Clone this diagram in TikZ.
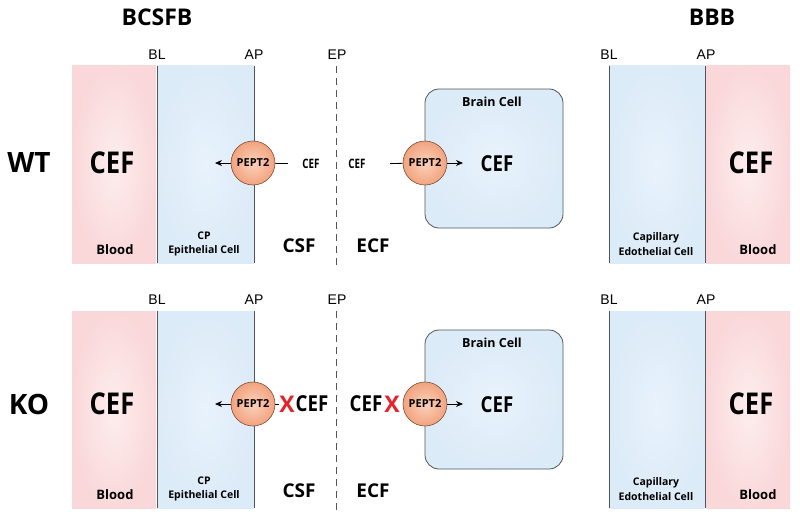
\documentclass[tikz,border=0pt]{standalone}
\usepackage{fontspec}
\setmainfont{Open Sans}
\newfontfamily\thinfont{Liberation Sans}
\usetikzlibrary{arrows.meta}
\definecolor{pinkout}{HTML}{FAD8DA}
\definecolor{pinkin}{HTML}{FDEDEE}
\definecolor{blueout}{HTML}{DCEBF8}
\definecolor{bluein}{HTML}{E8F2FB}
\definecolor{peptout}{HTML}{F2A37E}
\definecolor{peptin}{HTML}{FBD2BC}
\definecolor{peptline}{HTML}{7A4E3A}
\definecolor{linegray}{HTML}{50555B}
\definecolor{crossred}{HTML}{E3242B}
\newcommand\fsz[2]{\fontsize{#1}{#2}\selectfont}
\begin{document}
\begin{tikzpicture}[x=1pt,y=-1pt,
	pinkzone/.style={inner color=pinkin, outer color=pinkout},
	bluezone/.style={inner color=bluein, outer color=blueout},
	membrane/.style={draw=linegray, line width=0.9pt},
	pept/.style={circle, minimum size=44pt, inner sep=0pt, draw=peptline, line width=0.6pt, inner color=peptin, outer color=peptout, font=\bfseries\fsz{11}{11}},
	flow/.style={-{Stealth[length=7pt,width=6pt]}, line width=0.8pt},
	title/.style={font=\bfseries\fsz{23}{23}},
	rowlab/.style={font=\bfseries\fsz{28}{28}},
	memlab/.style={font=\thinfont\fsz{14}{14}},
	bigcef/.style={font=\bfseries\fsz{30}{30}, xscale=0.85},
	midcef/.style={font=\bfseries\fsz{22}{22}, xscale=0.85},
	smallcef/.style={font=\bfseries\fsz{13}{13}, xscale=0.75},
	zonelab/.style={font=\bfseries\fsz{13}{13}},
	celllab/.style={font=\bfseries\fsz{10.5}{14.5}, align=center},
	fluidlab/.style={font=\bfseries\fsz{19}{19}},
	redx/.style={font=\bfseries\fsz{23}{23}, text=crossred, inner sep=0pt}]
	\useasboundingbox (0,0) rectangle (800,519);
	\node[title] (bcsfb) at (157,17) {BCSFB};
	\node[title] (bbb) at (712,17) {BBB};
	\node[rowlab] (wt) at (29,163) {WT};
	\node[rowlab] (ko) at (29,404) {KO};
	\foreach \r/\yo/\dy in {wt/0/0, ko/245/-4} {
		\begin{scope}[yshift=-\yo pt]
			\shade[pinkzone] (72,66) rectangle (156,263);
			\shade[bluezone] (157,66) rectangle (254,263);
			\shade[bluezone] (609,66) rectangle (705,263);
			\shade[pinkzone] (706,66) rectangle (790,263);
			\draw[membrane] (157,66) -- (157,263);
			\draw[membrane] (254,66) -- (254,263);
			\draw[membrane] (609,66) -- (609,263);
			\draw[membrane] (705,66) -- (705,263);
			\draw[linegray, line width=0.9pt, dash pattern=on 7pt off 5pt] (336,66) -- (336,265);
			\node[memlab] (bl-\r) at (157,55) {BL};
			\node[memlab] (ap-\r) at (254,55) {AP};
			\node[memlab] (ep-\r) at (337,55) {EP};
			\node[memlab] (bbl-\r) at (609,55) {BL};
			\node[memlab] (bap-\r) at (706,55) {AP};
			\node[zonelab] (blood-\r) at (115,250) {Blood};
			\node[celllab] (cp-\r) at (204,244) {CP\\Epithelial Cell};
			\node[fluidlab] (csf-\r) at (299,246) {CSF};
			\node[fluidlab] (ecf-\r) at (373,246) {ECF};
			\node[celllab] (cap-\r) at (656,244) {Capillary\\Edothelial Cell};
			\node[zonelab] (bblood-\r) at (758,250) {Blood};
			% brain cell and transporters
			\node[draw=linegray, line width=0.8pt, rounded corners=14pt, bluezone, minimum width=138pt, minimum height=139pt] (brain-\r) at (494,{158.5+\dy}) {};
			\node[zonelab, font=\bfseries\fsz{12.5}{12.5}] (braintxt-\r) at (492,{102+\dy}) {Brain Cell};
			\node[bigcef] (cefblood-\r) at (112,{163+\dy}) {CEF};
			\node[bigcef] (cefbbb-\r) at (751,{163+\dy}) {CEF};
			\node[midcef] (cefbrain-\r) at (497,{164+\dy}) {CEF};
			\node[pept] (pa-\r) at (253,{163+\dy}) {PEPT2};
			\node[pept] (pb-\r) at (425,{163+\dy}) {PEPT2};
			\coordinate (pa-end-\r) at (215,{163+\dy});
			\coordinate (pb-end-\r) at (463,{163+\dy});
			\draw[flow] (pa-\r) -- (pa-end-\r);
			\draw[flow] (pb-\r) -- (pb-end-\r);
		\end{scope}
	}
	% wild type: uptake
	\node[smallcef] (cefcsf-wt) at (311,164) {CEF};
	\node[smallcef] (cefecf-wt) at (357,164) {CEF};
	\draw[line width=0.8pt, shorten >=12pt] (pa-wt) -- (cefcsf-wt);
	\draw[line width=0.8pt, shorten <=22pt] (cefecf-wt) -- (pb-wt);
	% knockout: blocked
	\node[redx] (xa-ko) at (287,404) {X};
	\node[midcef] (cefcsf-ko) at (312,404) {CEF};
	\node[midcef] (cefecf-ko) at (366,404) {CEF};
	\node[redx] (xb-ko) at (392,404) {X};
	\draw[line width=0.8pt] (pa-ko) -- (xa-ko);
\end{tikzpicture}
\end{document}
